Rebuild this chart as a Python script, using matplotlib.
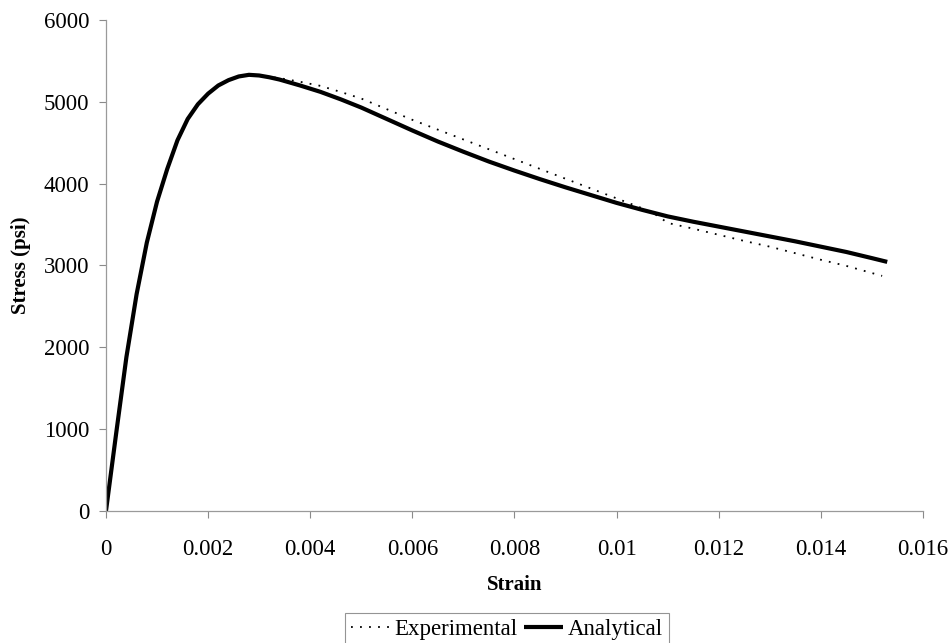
import matplotlib
matplotlib.use("Agg")
import matplotlib.pyplot as plt

# Experimental stress-strain record
exp_strain = [0.0, 0.0002, 0.0004, 0.0006, 0.0008, 0.001, 0.0012, 0.0014, 0.0016,
              0.0018, 0.002, 0.0022, 0.0024, 0.0026, 0.0028, 0.003, 0.0032, 0.0034,
              0.0038, 0.0042, 0.0046, 0.005, 0.0055, 0.006, 0.0065, 0.007, 0.0075,
              0.008, 0.0085, 0.009, 0.0095, 0.01, 0.0105, 0.0108, 0.011, 0.0115,
              0.012, 0.0125, 0.013, 0.0135, 0.014, 0.0145, 0.0152]
exp_stress = [0, 950, 1880, 2650, 3280, 3780, 4180, 4530, 4790,
              4970, 5100, 5200, 5265, 5305, 5322, 5318, 5305, 5290,
              5245, 5195, 5120, 5040, 4910, 4780, 4660, 4540, 4420,
              4300, 4180, 4060, 3940, 3820, 3700, 3610, 3520, 3450,
              3375, 3300, 3230, 3150, 3070, 2995, 2873]

# Analytical model curve
ana_strain = [0.0, 0.0002, 0.0004, 0.0006, 0.0008, 0.001, 0.0012, 0.0014, 0.0016,
              0.0018, 0.002, 0.0022, 0.0024, 0.0026, 0.0028, 0.003, 0.0032, 0.0034,
              0.0038, 0.0042, 0.0046, 0.005, 0.0055, 0.006, 0.0065, 0.007, 0.0075,
              0.008, 0.0085, 0.009, 0.0095, 0.01, 0.0105, 0.011, 0.0115, 0.012,
              0.0125, 0.013, 0.0135, 0.014, 0.0145, 0.015, 0.0153]
ana_stress = [0, 950, 1880, 2650, 3280, 3780, 4180, 4530, 4790,
              4970, 5100, 5200, 5265, 5310, 5330, 5322, 5300, 5272,
              5200, 5122, 5030, 4930, 4790, 4650, 4515, 4390, 4270,
              4160, 4055, 3955, 3860, 3765, 3680, 3600, 3535, 3475,
              3415, 3355, 3295, 3230, 3165, 3090, 3044]

xticks = [0, 0.002, 0.004, 0.006, 0.008, 0.01, 0.012, 0.014, 0.016]
xtick_labels = ["0", "0.002", "0.004", "0.006", "0.008", "0.01", "0.012", "0.014", "0.016"]
yticks = [0, 1000, 2000, 3000, 4000, 5000, 6000]

plt.rcParams["font.family"] = ["Liberation Serif", "DejaVu Serif"]

fig = plt.figure(figsize=(9.53, 6.43), dpi=100)
ax = fig.add_axes([0.1112, 0.2053, 0.8573, 0.7636])

ax.plot(exp_strain, exp_stress, color="black", lw=1.3,
        linestyle=(0, (1, 4)), label="Experimental")
ax.plot(ana_strain, ana_stress, color="black", lw=3.0,
        solid_capstyle="butt", solid_joinstyle="round", label="Analytical")

ax.set_xlim(0, 0.016)
ax.set_ylim(0, 6000)
ax.set_xticks(xticks)
ax.set_xticklabels(xtick_labels)
ax.set_yticks(yticks)

for side in ("top", "right"):
    ax.spines[side].set_visible(False)
for side in ("left", "bottom"):
    ax.spines[side].set_color("#9a9a9a")
    ax.spines[side].set_linewidth(0.9)

ax.tick_params(axis="both", direction="out", length=5, width=0.8,
               color="#8a8a8a", labelsize=16.5, labelcolor="black")
ax.tick_params(axis="x", pad=15)
ax.tick_params(axis="y", pad=7)

ax.set_xlabel("Strain", fontsize=15, fontweight="bold", labelpad=11)
ax.set_ylabel("Stress (psi)", fontsize=15, fontweight="bold", labelpad=9)

leg = fig.legend(loc="upper center", bbox_to_anchor=(0.532, 0.047), ncol=2,
                 fontsize=16.5, frameon=True, fancybox=False, handlelength=1.7,
                 handletextpad=0.2, columnspacing=0.3, borderpad=0.25,
                 borderaxespad=0)
leg.get_frame().set_edgecolor("#7a7a7a")
leg.get_frame().set_linewidth(0.8)

fig.savefig("out.png", dpi=100)
